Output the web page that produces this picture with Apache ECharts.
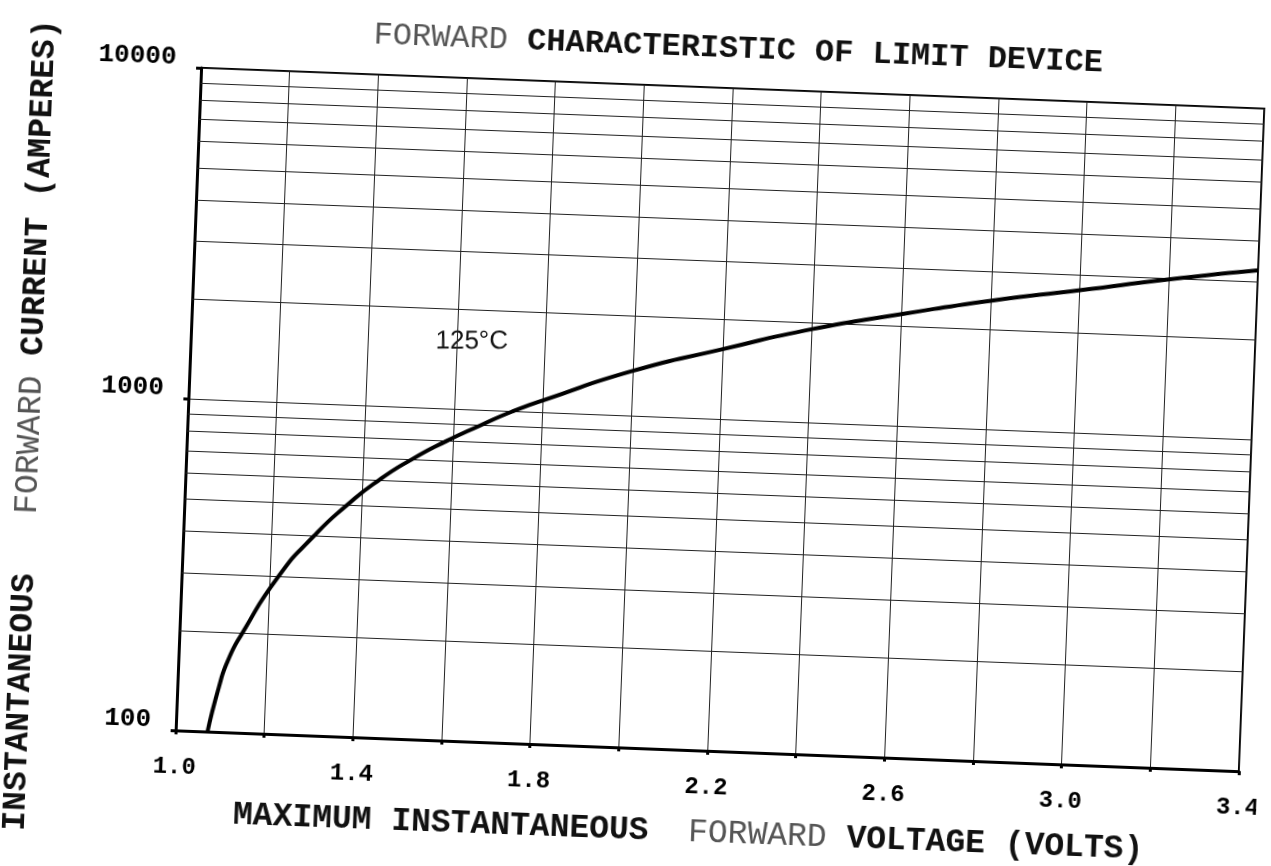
<!DOCTYPE html>
<html>
<head>
<meta charset="utf-8">
<script src="https://cdn.jsdelivr.net/npm/echarts@6/dist/echarts.min.js"></script>
<style>
  html, body { margin: 0; padding: 0; background: #fff; overflow: hidden; }
  /* the scanned sheet is tilted ~2.2deg clockwise, so the whole chart is turned to match */
  #chart { position: absolute; left: 0; top: 0; width: 1271px; height: 866px;
           transform: rotate(2.2deg); transform-origin: 720px 419px; }
</style>
</head>
<body>
<div id="chart"></div>
<script>
const voltage = [1.072, 1.094, 1.112, 1.142, 1.219, 1.295, 1.367, 1.437, 1.51, 1.585, 1.66, 1.731, 1.8, 2.0, 2.2, 2.4, 2.6, 2.8, 3.0, 3.2, 3.4];
const current = [100, 137, 165, 200, 300, 400, 500, 600, 700, 800, 900, 1000, 1090, 1370, 1630, 1920, 2180, 2450, 2700, 2980, 3250];

// log paper minor lines
const minorCurrent = [200, 300, 400, 500, 600, 700, 800, 900, 2000, 3000, 4000, 5000, 6000, 7000, 8000, 9000];

const xLabels = ['1.0', '1.4', '1.8', '2.2', '2.6', '3.0', '3.4'];
const yLabels = ['100', '1000', '10000'];

const MONO = "'Liberation Mono', 'DejaVu Sans Mono', monospace";
const TILT = 2.2 * Math.PI / 180;

function richAt(size) {
  return {
    b: { fontFamily: MONO, fontSize: size, fontWeight: 'bold', color: '#111' },
    t: { fontFamily: MONO, fontSize: size, fontWeight: 'normal', color: '#555' }
  };
}

const chart = echarts.init(document.getElementById('chart'));

const option = {
  animation: false,
  backgroundColor: '#fff',
  title: {
    text: '{t|FORWARD} {b|CHARACTERISTIC OF LIMIT DEVICE}',
    left: 719,
    top: 28,
    textAlign: 'center',
    textStyle: { fontFamily: MONO, fontSize: 32, rich: richAt(32) }
  },
  grid: {
    left: 188, top: 88, width: 1064, height: 663,
    show: true, borderColor: '#000', borderWidth: 2,
    outerBoundsMode: 'none'
  },
  xAxis: {
    type: 'value',
    min: 1.0, max: 3.4, interval: 0.2,
    axisLine: { show: true, onZero: false, lineStyle: { color: '#000', width: 3 } },
    axisTick: { show: true, length: 4, lineStyle: { color: '#000', width: 3 } },
    splitLine: { show: true, lineStyle: { color: '#222', width: 1 } },
    axisLabel: {
      margin: 25, fontFamily: MONO, fontWeight: 'bold', fontSize: 24, color: '#000',
      showMinLabel: true, showMaxLabel: true,
      formatter: v => {
        const s = v.toFixed(1);
        return xLabels.includes(s) ? s : '';
      }
    },
    name: '{b|MAXIMUM INSTANTANEOUS}  {t|FORWARD} {b|VOLTAGE (VOLTS)}',
    nameLocation: 'middle',
    nameGap: 66,
    nameTextStyle: { fontFamily: MONO, fontSize: 33, padding: [0, 32, 0, 0], rich: richAt(33) }
  },
  yAxis: {
    type: 'log',
    logBase: 10,
    min: 100, max: 10000,
    axisLine: { show: true, lineStyle: { color: '#000', width: 3 } },
    axisTick: { show: true, length: 5, lineStyle: { color: '#000', width: 3 } },
    splitLine: { show: true, lineStyle: { color: '#222', width: 1 } },
    axisLabel: {
      margin: 25, fontFamily: MONO, fontWeight: 'bold', fontSize: 26, color: '#000',
      verticalAlign: 'bottom', lineHeight: 20,
      formatter: v => {
        const s = String(Math.round(v));
        return yLabels.includes(s) ? s : '';
      }
    },
    name: '{b|INSTANTANEOUS}   {t|FORWARD} {b|CURRENT (AMPERES)}',
    nameLocation: 'middle',
    nameGap: 140,
    nameTextStyle: { fontFamily: MONO, fontSize: 33, padding: [0, 64, 0, 0], rich: richAt(33) }
  },
  graphic: [{
    type: 'text',
    x: 469, y: 351,
    rotation: TILT,
    style: {
      text: '125°C',
      font: '26px "Liberation Sans", Arial, sans-serif',
      fill: '#111',
      align: 'center', verticalAlign: 'middle',
      textAlign: 'center', textVerticalAlign: 'middle'
    }
  }],
  series: [
    {
      // carrier for the minor grid lines only
      type: 'line',
      z: 1,
      silent: true,
      showSymbol: false,
      data: voltage.map((v, i) => [v, current[i]]),
      lineStyle: { opacity: 0 },
      markLine: {
        silent: true,
        symbol: ['none', 'none'],
        label: { show: false },
        lineStyle: { color: '#222', width: 1, type: 'solid' },
        data: minorCurrent.map(c => ({ yAxis: c }))
      }
    },
    {
      type: 'line',
      z: 5,
      silent: true,
      showSymbol: false,
      smooth: 0.6,
      data: voltage.map((v, i) => [v, current[i]]),
      lineStyle: { color: '#000', width: 4 }
    }
  ]
};

chart.setOption(option);
</script>
</body>
</html>
